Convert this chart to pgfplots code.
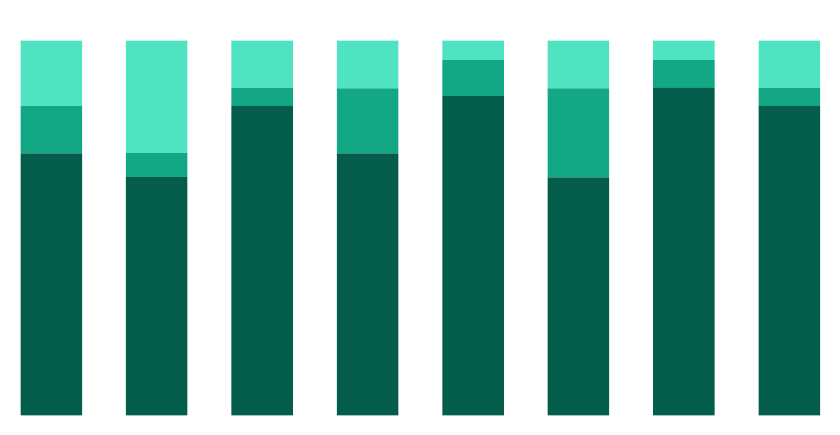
\documentclass[border=0pt]{standalone}
\usepackage{pgfplots}
\pgfplotsset{compat=1.18}
\definecolor{darkteal}{HTML}{045D4A}
\definecolor{midteal}{HTML}{12A886}
\definecolor{lightteal}{HTML}{50E3C2}
\begin{document}
\begin{tikzpicture}
\begin{axis}[
  ybar stacked,
  scale only axis,
  width=840bp, height=435bp,
  xmin=-0.4866, xmax=7.481,
  ymin=-5.26, ymax=110.86,
  bar width=61.5bp,
  hide axis,
  clip=false,
]
\path (rel axis cs:0,0) rectangle (rel axis cs:1,1);
\addplot[draw=none, fill=darkteal] coordinates
  {(0,69.9) (1,63.6) (2,82.6) (3,69.9) (4,85.2) (5,63.5) (6,87.4) (7,82.6)};
\addplot[draw=none, fill=midteal] coordinates
  {(0,12.6) (1,6.4) (2,4.9) (3,17.4) (4,9.6) (5,23.8) (6,7.4) (7,4.9)};
\addplot[draw=none, fill=lightteal] coordinates
  {(0,17.5) (1,30.0) (2,12.5) (3,12.7) (4,5.2) (5,12.7) (6,5.2) (7,12.5)};
\end{axis}
\end{tikzpicture}
\end{document}
